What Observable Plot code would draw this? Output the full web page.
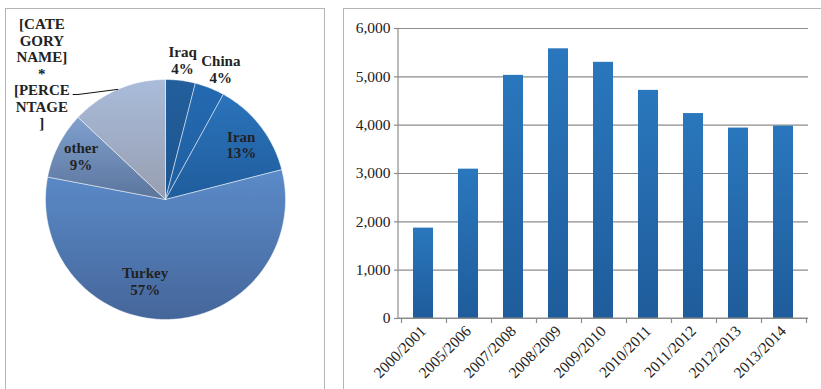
<!DOCTYPE html>
<html>
<head>
<meta charset="utf-8">
<script src="https://cdn.jsdelivr.net/npm/d3@7"></script>
<script src="https://cdn.jsdelivr.net/npm/@observablehq/plot@0.6"></script>
<style>
  html, body { margin: 0; padding: 0; background: #fff; }
  #page { position: relative; width: 821px; height: 389px; overflow: hidden; background: #fff; }
  .panel { position: absolute; border: 1px solid #b4b4b4; box-sizing: border-box; }
  #pie, #bars { position: absolute; top: 0; }
  #pie { left: 0; }
  #bars { left: 330px; }
  svg text { font-family: "Liberation Serif", "Times New Roman", Times, serif !important; }
</style>
</head>
<body>
<div id="page">
  <div class="panel" style="left:5px; top:8px; width:320px; height:400px;"></div>
  <div class="panel" style="left:343px; top:8px; width:500px; height:400px;"></div>
  <div id="pie"></div>
  <div id="bars"></div>
</div>
<script>
// ---------- DATA ----------
const pieCategories = ["Iraq", "China", "Iran", "Turkey", "other", "[CATEGORY NAME]"];
const pieShares = [4, 4, 13, 57, 9, 13];
const pieLabelText = [
  "Iraq\n4%", "China\n4%", "Iran\n13%", "Turkey\n57%", "other\n9%",
  "[CATE\nGORY\nNAME]\n*\n[PERCE\nNTAGE\n]"
];

const periods = ["2000/2001", "2005/2006", "2007/2008", "2008/2009", "2009/2010",
                 "2010/2011", "2011/2012", "2012/2013", "2013/2014"];
const values = [1870, 3090, 5030, 5580, 5300, 4720, 4240, 3940, 3980];
const yTicks = [0, 1000, 2000, 3000, 4000, 5000, 6000];

// ---------- STYLE / LAYOUT ----------
const FONT = '"Liberation Serif", "Times New Roman", Times, serif';
const sliceColors = [
  ["#235f9c", "#1c5590"],
  ["#2469b0", "#1f5fa1"],
  ["#2b73bb", "#1f5d9c"],
  ["#5b8bc9", "#45669a"],
  ["#809fce", "#5b759c"],
  ["#a9bcda", "#979eb0"]
];
// label placement: [angle in degrees clockwise from top, radius in pie radii]
const labelPolar = [[7, 1.17], [23, 1.18], [54, 0.78], [194, 0.70], [297, 0.79], [315.5, 1.47]];
const leaderStart = [[-0.77, 0.875], [-0.73, 0.875]];
const ns = "http://www.w3.org/2000/svg";

function makeDefs(grads) {
  return () => {
    const defs = document.createElementNS(ns, "defs");
    for (const [id, top, bottom] of grads) {
      const lg = document.createElementNS(ns, "linearGradient");
      lg.setAttribute("id", id);
      lg.setAttribute("x1", "0"); lg.setAttribute("y1", "0");
      lg.setAttribute("x2", "0"); lg.setAttribute("y2", "1");
      for (const [off, c] of [["0", top], ["1", bottom]]) {
        const s = document.createElementNS(ns, "stop");
        s.setAttribute("offset", off);
        s.setAttribute("stop-color", c);
        lg.appendChild(s);
      }
      defs.appendChild(lg);
    }
    return defs;
  };
}

// ---------- PIE ----------
const total = d3.sum(pieShares);
const starts = d3.cumsum([0, ...pieShares]).map(v => v / total);
const slices = pieCategories.map((name, i) => {
  const a0 = starts[i] * 2 * Math.PI, a1 = starts[i + 1] * 2 * Math.PI;
  const n = Math.max(2, Math.ceil((a1 - a0) / (Math.PI / 180)));
  const pts = [{name, x: 0, y: 0}];
  for (let k = 0; k <= n; k++) {
    const a = a0 + (a1 - a0) * k / n;
    pts.push({name, x: Math.sin(a), y: Math.cos(a)});
  }
  pts.push({name, x: 0, y: 0});
  return pts;
});
const pieLabels = pieCategories.map((name, i) => {
  const [deg, r] = labelPolar[i];
  const a = deg * Math.PI / 180;
  return {name, text: pieLabelText[i], x: r * Math.sin(a), y: r * Math.cos(a)};
});
const lastMid = (starts[5] + starts[6]) / 2 * 2 * Math.PI;
const leader = [...leaderStart.map(([x, y]) => ({x, y})), {x: Math.sin(lastMid), y: Math.cos(lastMid)}];

const pie = Plot.plot({
  width: 330, height: 389, margin: 0,
  style: {background: "transparent", overflow: "visible", fontFamily: FONT},
  x: {domain: [-1, 1], range: [45, 285], axis: null},
  y: {domain: [-1, 1], range: [319, 79], axis: null},
  marks: [
    makeDefs(sliceColors.map(([t, b], i) => [`pg${i}`, t, b])),
    ...slices.map((pts, i) => Plot.line(pts, {
      x: "x", y: "y", fill: `url(#pg${i})`, stroke: "#ffffff", strokeWidth: 0.6,
      strokeOpacity: 0.8, strokeLinejoin: "round"
    })),
    Plot.line(leader, {x: "x", y: "y", stroke: "#111", strokeWidth: 1}),
    Plot.text(pieLabels, {
      x: "x", y: "y", text: "text", fontFamily: FONT, fontWeight: "bold",
      fontSize: 15, fill: "#222", lineHeight: 1.1, lineAnchor: "middle", textAnchor: "middle"
    })
  ]
});
document.getElementById("pie").appendChild(pie);

// ---------- BARS ----------
function axisLines(index, scales, values, dims) {
  const g = document.createElementNS(ns, "g");
  const x = scales.x;
  const left = dims.marginLeft, right = dims.width - dims.marginRight;
  const top = dims.marginTop, bottom = dims.height - dims.marginBottom;
  const step = x(periods[1]) - x(periods[0]);
  const bw = typeof x.bandwidth === "function" ? x.bandwidth() : step * 0.44;
  const lines = [[left, top, left, bottom], [left, bottom, right, bottom]];
  const b0 = x(periods[0]) - (step - bw) / 2;
  for (let i = 0; i <= periods.length; i++) {
    const bx = Math.round(b0 + i * step) + 0.5;
    lines.push([bx, bottom, bx, bottom + 5]);
  }
  for (const [x1, y1, x2, y2] of lines) {
    const l = document.createElementNS(ns, "line");
    l.setAttribute("x1", x1); l.setAttribute("y1", y1);
    l.setAttribute("x2", x2); l.setAttribute("y2", y2);
    l.setAttribute("stroke", "#8c8c8c");
    l.setAttribute("stroke-width", 1.2);
    g.appendChild(l);
  }
  return g;
}

const bars = Plot.plot({
  width: 491, height: 389,
  marginLeft: 68, marginRight: 13, marginTop: 28, marginBottom: 71,
  style: {background: "transparent", fontFamily: FONT, fontSize: "15.5px", color: "#222", overflow: "visible"},
  x: {domain: periods, paddingInner: 0.56, paddingOuter: 0.28, label: null},
  y: {domain: [0, 6000], label: null},
  marks: [
    makeDefs([["barGrad", "#2a77bd", "#1f5c9b"]]),
    Plot.gridY(yTicks, {stroke: "#8c8c8c", strokeOpacity: 1, strokeWidth: 1.2}),
    Plot.axisY(yTicks, {tickSize: 4, tickPadding: 4, stroke: "#8c8c8c", strokeWidth: 1.2,
      tickFormat: d3.format(","), fontSize: 15.5, fill: "#222"}),
    Plot.barY(values.map((v, i) => ({period: periods[i], value: v})), {
      x: "period", y: "value", fill: "url(#barGrad)"
    }),
    axisLines,
    Plot.axisX({tickSize: 0, tickPadding: 10, tickRotate: -45, fontSize: 15.5, fill: "#222"})
  ]
});
document.getElementById("bars").appendChild(bars);
</script>
</body>
</html>
